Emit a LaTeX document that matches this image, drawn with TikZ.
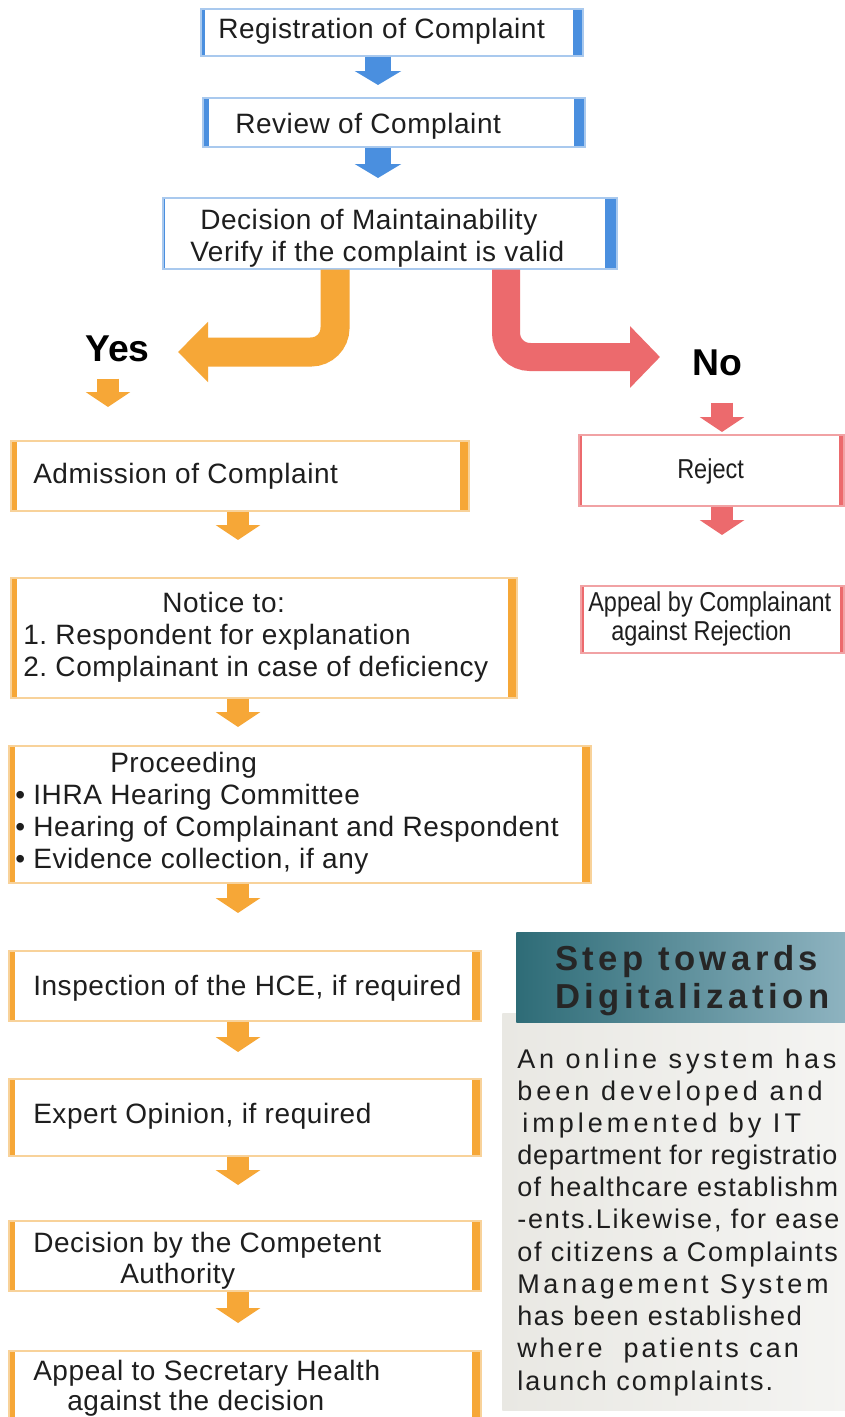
\documentclass[tikz,border=0pt]{standalone}
\usepackage{fontspec}
\setmainfont{Liberation Sans}
\newfontfamily\bxf[LetterSpace=2]{Liberation Sans}
\usetikzlibrary{arrows.meta}
\definecolor{bC}{HTML}{4A8FDF}
\definecolor{bL}{HTML}{A9C9EE}
\definecolor{oC}{HTML}{F6A737}
\definecolor{oL}{HTML}{F8D29A}
\definecolor{rC}{HTML}{EC6A6D}
\definecolor{rL}{HTML}{F1A2A4}
\definecolor{tx}{HTML}{1E1E1E}
\definecolor{hdL}{HTML}{2E6C77}
\definecolor{hdR}{HTML}{8FB4C1}
\definecolor{bgL}{HTML}{E9E8E3}
\definecolor{bgR}{HTML}{F4F4F2}
\tikzset{
  boxbase/.style={rectangle, inner sep=0pt, fill=white, line width=1.2pt, anchor=north west},
  bars/.style n args={3}{path picture={
      \fill[#1] (path picture bounding box.north west) rectangle ([xshift=#2]path picture bounding box.south west);
      \fill[#1] ([xshift=-#3]path picture bounding box.north east) rectangle (path picture bounding box.south east);}},
  bluebox/.style 2 args={boxbase, draw=bL, bars={bC}{#1}{#2}},
  orangebox/.style={boxbase, draw=oL, bars={oC}{4.5pt}{6.75pt}},
  redbox/.style 2 args={boxbase, draw=rL, bars={rC}{#1}{#2}},
  panel/.style={rectangle, inner sep=0pt, anchor=north west, left color=bgL, right color=bgR},
  header/.style={rectangle, inner sep=0pt, anchor=north west, left color=hdL, right color=hdR},
  txt/.style={anchor=base west, inner sep=0pt, text=tx, font=\fontsize{21pt}{24pt}\bxf},
  smalltxt/.style={anchor=base west, inner sep=0pt, text=tx, font=\fontsize{20.5pt}{24pt}\selectfont},
  bigtxt/.style={anchor=base west, inner sep=0pt, text=black, font=\fontsize{28pt}{32pt}\bfseries},
  htxt/.style={anchor=base west, inner sep=0pt, text=black!85, font=\fontsize{26pt}{30pt}\bfseries},
  btxt/.style={anchor=base west, inner sep=0pt, text=tx, font=\fontsize{20.25pt}{24pt}\selectfont},
  barrow/.style={draw=bC, line width=19.5pt, -{Triangle[width=34.5pt,length=10.5pt]}},
  oarrow/.style={draw=oC, line width=16.5pt, -{Triangle[width=33pt,length=11.25pt]}},
  rarrow/.style={draw=rC, line width=16.5pt, -{Triangle[width=33pt,length=11.25pt]}},
  yesarr/.style={draw=oC, line width=21.75pt, rounded corners=18pt, -{Triangle[width=44pt,length=22.5pt]}},
  noarr/.style={draw=rC, line width=21pt, rounded corners=18pt, -{Triangle[width=45pt,length=22.5pt]}},
}
\begin{document}
\begin{tikzpicture}[x=0.75pt,y=-0.75pt]
\useasboundingbox (0,0) rectangle (845,1417);
\clip (0,0) rectangle (845,1417);
\fill[white] (0,0) rectangle (845,1417);

% digitalization panel
\node[panel, minimum width=260pt, minimum height=297.75pt] (dbody) at (502,1013) {};
\node[header, minimum width=250pt, minimum height=67.5pt] (dhead) at (516,932) {};

% blue boxes
\node[bluebox={3pt}{7.5pt}, minimum width=286.5pt, minimum height=35.25pt] (reg) at (200,8) {};
\node[bluebox={4.5pt}{8pt}, minimum width=286.5pt, minimum height=36.75pt] (rev) at (202,97) {};
\node[bluebox={1.5pt}{9pt}, minimum width=340.5pt, minimum height=53.25pt] (dec) at (162,197) {};

% red boxes
\node[redbox={2.5pt}{3.5pt}, minimum width=198.75pt, minimum height=53.25pt] (rej) at (578,434) {};
\node[redbox={2.5pt}{3pt}, minimum width=197.25pt, minimum height=50.25pt] (app) at (580,585) {};

% orange boxes
\node[orangebox, minimum width=343.5pt, minimum height=52.5pt] (adm) at (10,440) {};
\node[orangebox, minimum width=379.5pt, minimum height=90pt] (ntc) at (10,577) {};
\node[orangebox, minimum width=436.5pt, minimum height=102.75pt] (prc) at (8,745) {};
\node[orangebox, minimum width=354pt, minimum height=52.5pt] (ins) at (8,950) {};
\node[orangebox, minimum width=354pt, minimum height=57.75pt] (exp) at (8,1078) {};
\node[orangebox, minimum width=354pt, minimum height=52.5pt] (dcs) at (8,1220) {};
\node[orangebox, minimum width=354pt, minimum height=56.25pt] (aps) at (8,1350) {};

% labels Yes / No
\node[bigtxt] (yes) at (85,361) {Yes};
\node[bigtxt] (no) at (692,375) {No};

% connectors
\coordinate (ax) at (378,0);
\coordinate (ox) at (238,0);
\coordinate (ys) at (335,0);
\coordinate (yt) at (178,352);
\coordinate (rs) at (506,0);
\coordinate (rt) at (660,357);
\coordinate (ya) at (108,0);
\coordinate (na) at (722,0);

\draw[barrow, shorten >=9pt] (reg.south -| ax) -- (rev.north -| ax);
\draw[barrow, shorten >=14.25pt] (rev.south -| ax) -- (dec.north -| ax);
\draw[yesarr] (dec.south -| ys) |- (yt);
\draw[noarr] (dec.south -| rs) |- (rt);
\draw[oarrow, shorten <=12.75pt, shorten >=24.75pt] (yes.south -| ya) -- (adm.north -| ya);
\draw[rarrow, shorten <=20.25pt, shorten >=1.5pt] (no.south -| na) -- (rej.north -| na);
\draw[rarrow, shorten >=37.5pt] (rej.south -| na) -- (app.north -| na);
\draw[oarrow, shorten >=27.75pt] (adm.south -| ox) -- (ntc.north -| ox);
\draw[oarrow, shorten >=13.5pt] (ntc.south -| ox) -- (prc.north -| ox);
\draw[oarrow, shorten >=27.75pt] (prc.south -| ox) -- (ins.north -| ox);
\draw[oarrow, shorten >=19.5pt] (ins.south -| ox) -- (exp.north -| ox);
\draw[oarrow, shorten >=26.25pt] (exp.south -| ox) -- (dcs.north -| ox);
\draw[oarrow, shorten >=20.25pt] (dcs.south -| ox) -- (aps.north -| ox);

% box texts
\node[txt] (t1) at (218,38) {Registration of Complaint};
\node[txt] (t2) at (235,133) {Review of Complaint};
\node[txt] (t3a) at (200,229) {Decision of Maintainability};
\node[txt] (t3b) at (190,261) {Verify if the complaint is valid};
\node[smalltxt] (tr) at (677,478) {\scalebox{0.86}[1]{Reject}};
\node[smalltxt] (ta1) at (588,611) {\scalebox{0.86}[1]{Appeal by Complainant}};
\node[smalltxt] (ta2) at (611,640) {\scalebox{0.86}[1]{against Rejection}};
\node[txt] (tad) at (33,483) {Admission of Complaint};
\node[txt] (tn0) at (162,612) {Notice to:};
\node[txt] (tn1) at (23,644) {1.\ Respondent for explanation};
\node[txt] (tn2) at (23,676) {2.\ Complainant in case of deficiency};
\node[txt] (tp0) at (110,772) {Proceeding};
\node[txt] (tp1) at (15,804) {\textbullet\ IHRA Hearing Committee};
\node[txt] (tp2) at (15,836) {\textbullet\ Hearing of Complainant and Respondent};
\node[txt] (tp3) at (15,868) {\textbullet\ Evidence collection, if any};
\node[txt] (ti) at (33,995) {Inspection of the HCE, if required};
\node[txt] (te) at (33,1123) {Expert Opinion, if required};
\node[txt] (td1) at (33,1252) {Decision by the Competent};
\node[txt] (td2) at (120,1283) {Authority};
\node[txt] (ts1) at (33,1380) {Appeal to Secretary Health};
\node[txt] (ts2) at (67,1410) {against the decision};

% digitalization texts
\node[htxt] (h1) at (555,970) {\addfontfeatures{LetterSpace=13}Step towards};
\node[htxt] (h2) at (555,1008) {\addfontfeatures{LetterSpace=13}Digitalization};
\node[btxt] (l1) at (517,1068) {\addfontfeatures{LetterSpace=14.5}An online system has};
\node[btxt] (l2) at (517,1100) {\addfontfeatures{LetterSpace=15}been developed and};
\node[btxt] (l3) at (522,1132) {\addfontfeatures{LetterSpace=15}implemented by IT};
\node[btxt] (l4) at (517,1164) {\addfontfeatures{LetterSpace=3}department for registratio};
\node[btxt] (l5) at (517,1196) {\addfontfeatures{LetterSpace=5}of healthcare establishm};
\node[btxt] (l6) at (517,1228) {\addfontfeatures{LetterSpace=6.8}-ents.Likewise, for ease};
\node[btxt] (l7) at (517,1261) {\addfontfeatures{LetterSpace=6.6}of citizens a Complaints};
\node[btxt] (l8) at (517,1293) {\addfontfeatures{LetterSpace=13.9}Management System};
\node[btxt] (l9) at (517,1325) {\addfontfeatures{LetterSpace=6.4}has been established};
\node[btxt] (l10) at (517,1357) {\addfontfeatures{LetterSpace=11}where\ \ patients can};
\node[btxt] (l11) at (517,1390) {\addfontfeatures{LetterSpace=7.5}launch complaints.};
\end{tikzpicture}
\end{document}
